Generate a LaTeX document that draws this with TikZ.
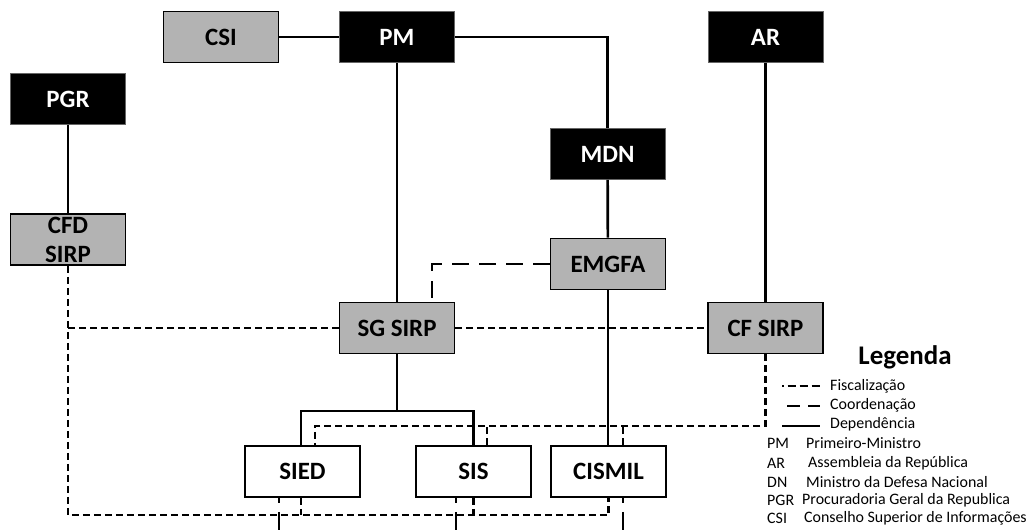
\documentclass[tikz,border=0pt]{standalone}
\usepackage{fontspec}
\setmainfont{Carlito}
\usetikzlibrary{calc}
\definecolor{boxgray}{RGB}{179,179,179}
\begin{document}
\begin{tikzpicture}[x=1bp,y=-1bp,
 box/.style={draw=black,line width=1.8bp,minimum width=115bp,minimum height=51bp,inner sep=0pt,font=\bfseries\fontsize{25}{29}\selectfont},
 blk/.style={box,fill=black,text=white,draw=black!60,line width=0.8bp},
 gry/.style={box,fill=boxgray},
 wht/.style={box,fill=white},
 dep/.style={line width=2.7bp},
 fisc/.style={line width=2.7bp,dash pattern=on 7bp off 4bp},
 coord/.style={line width=2.7bp,dash pattern=on 17bp off 10bp},
 ext/.style={line width=2.7bp,dash pattern=on 5bp off 9bp on 40bp},
 leg/.style={anchor=west,font=\fontsize{16}{19}\selectfont,inner sep=0pt}]
\useasboundingbox[fill=white] (0,0) rectangle (1030,530);

% nodes
\node[gry] (csi) at (221,37) {CSI};
\node[blk] (pm) at (397,37) {PM};
\node[blk] (ar) at (765.5,37) {AR};
\node[blk] (pgr) at (68,99) {PGR};
\node[blk] (mdn) at (607.5,154) {MDN};
\node[gry,label={[align=center,font=\bfseries\fontsize{25}{29}\selectfont,yshift=0bp]center:CFD\\SIRP}] (cfd) at (68,239.5) {};
\node[gry] (emgfa) at (608,264) {EMGFA};
\node[gry] (sg) at (397,328) {SG SIRP};
\node[gry] (cf) at (765.5,328) {CF SIRP};
\node[wht] (sied) at (302.5,471.5) {SIED};
\node[wht] (sis) at (473.5,471.5) {SIS};
\node[wht] (cismil) at (608.5,471.5) {CISMIL};

\coordinate (tj) at (397,411);
\coordinate (ft) at (315,426);
\coordinate (fb) at (68,515);
\coordinate (bot) at (0,532);

% dependence
\draw[dep] (csi) -- (pm);
\draw[dep] (pm.east) -| (mdn.north);
\draw[dep] (pm) -- (sg);
\draw[dep] (ar) -- (cf);
\draw[dep] (pgr) -- (cfd);
\draw[dep] (mdn) -- (emgfa);
\draw[dep] (emgfa.south) -- (emgfa.south |- cismil.north);
\draw[dep] (sg.south) -- (tj);
\draw[dep] ([xshift=-1.5bp]sied.north) |- (tj) -| (sis.north);

% coordination
\draw[coord] (emgfa.west) -| ([xshift=35bp]sg.north);

% fiscalization
\draw[fisc] (sg.east) -- (cf.west);
\draw[fisc] (sg.west) -- (sg.west -| cfd.south);
\draw[fisc] (cfd.south) -- (fb) -| (cismil.south);
\draw[fisc] ([xshift=-1.5bp]sied.south) -- ([xshift=-1.5bp]sied.south |- fb);
\draw[fisc] (sis.south) -- (sis.south |- fb);
\draw[fisc] (cf.south) |- (ft) -- (ft |- sied.north);
\draw[fisc] ([xshift=13.5bp]sis.north) -- ([xshift=13.5bp]sis.north |- ft);
\draw[fisc] ([xshift=14.5bp]cismil.north) -- ([xshift=14.5bp]cismil.north |- ft);

% lines leaving the picture
\draw[ext] ([xshift=-23.5bp]sied.south) -- ([xshift=-23.5bp]sied.south |- bot);
\draw[ext] ([xshift=-17.5bp]sis.south) -- ([xshift=-17.5bp]sis.south |- bot);
\draw[ext] ([xshift=14.5bp]cismil.south) -- ([xshift=14.5bp]cismil.south |- bot);

% legend
\node[font=\bfseries\fontsize{27}{32}\selectfont,inner sep=0pt] (legtitle) at (905,357) {Legenda};
\draw[line width=2.3bp,dash pattern=on 1.5bp off 4bp on 8bp off 4bp on 8bp off 4bp on 8bp] (782,386) -- (820,386);
\draw[line width=2.7bp,dash pattern=on 13bp off 8bp on 13bp] (787,406) -- (820,406);
\draw[line width=2.7bp] (782,426) -- (820,426);
\node[leg] (l1) at (830,386) {Fiscalização};
\node[leg] (l2) at (830,405) {Coordenação};
\node[leg] (l3) at (830,424) {Dependência};
\node[leg] (a1) at (767,443) {PM};
\node[leg] (a2) at (767,463) {AR};
\node[leg] (a3) at (767,482) {DN};
\node[leg] (a4) at (767,500) {PGR};
\node[leg] (a5) at (767,518) {CSI};
\node[leg] (d1) at (806,443) {Primeiro-Ministro};
\node[leg] (d2) at (808,463) {Assembleia da República};
\node[leg] (d3) at (806,482) {Ministro da Defesa Nacional};
\node[leg] (d4) at (802,500) {Procuradoria Geral da Republica};
\node[leg] (d5) at (804,518) {Conselho Superior de Informações};
\end{tikzpicture}
\end{document}
